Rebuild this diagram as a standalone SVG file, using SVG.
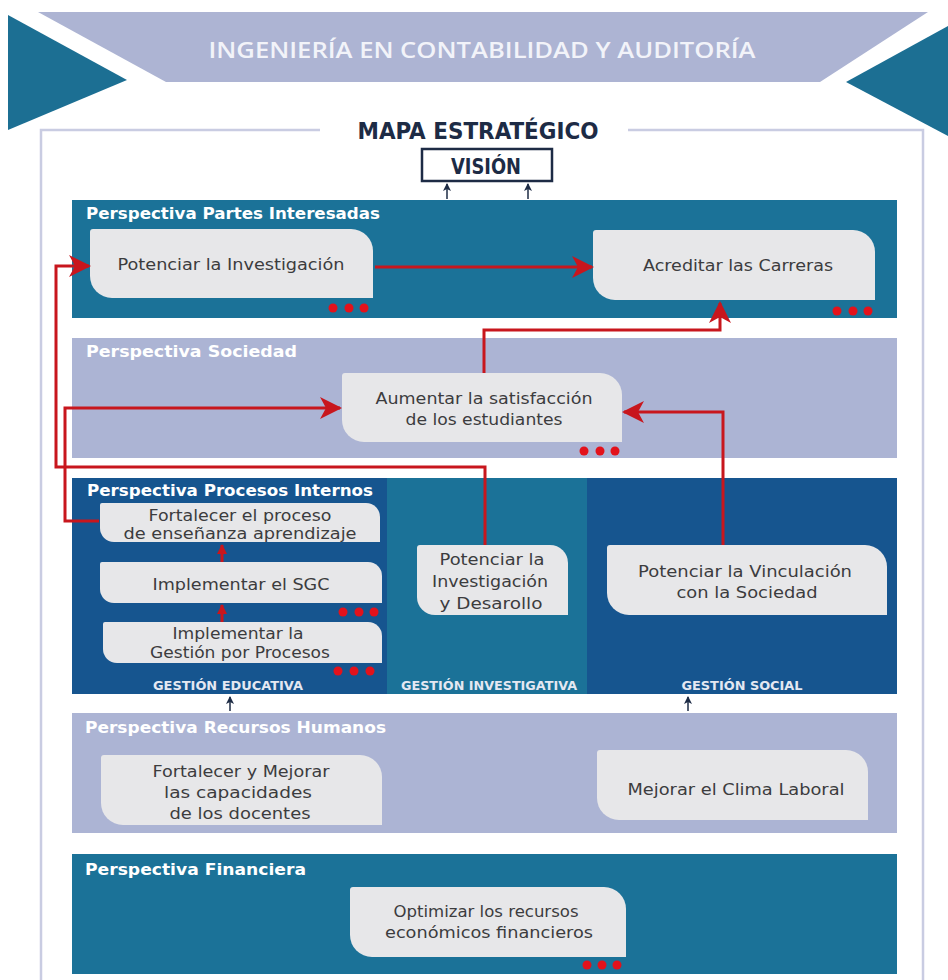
<svg xmlns="http://www.w3.org/2000/svg" width="948" height="980" viewBox="0 0 948 980">
<style>
.node{fill:#e7e7e9}
.nt{font-family:"DejaVu Sans",sans-serif;font-size:16px;fill:#3c3c3e;text-anchor:middle}
.ns{font-size:15px}
.lbl{font-family:"DejaVu Sans",sans-serif;font-weight:bold;font-size:15px;fill:#ffffff}
.gest{font-family:"DejaVu Sans",sans-serif;font-weight:bold;font-size:11.5px;fill:#e4e8f2;text-anchor:middle}
.dot{fill:#e3121b}
.red{fill:none;stroke:#c8161d;stroke-width:3}
.dark{fill:none;stroke:#1d2b45;stroke-width:1.5}
</style>
<defs>
<marker id="ah" markerUnits="userSpaceOnUse" markerWidth="24" markerHeight="24" viewBox="0 0 24 24" refX="20" refY="12" orient="auto">
<path d="M0,1 L22,12 L0,23 L6,12 Z" fill="#c8161d"/>
</marker>
<marker id="ahs" markerUnits="userSpaceOnUse" markerWidth="10" markerHeight="10" viewBox="0 0 10 10" refX="9" refY="5" orient="auto">
<path d="M0,0 L10,5 L0,10 Z" fill="#c8161d"/>
</marker>
<marker id="ahd" markerUnits="userSpaceOnUse" markerWidth="8" markerHeight="8" viewBox="0 0 8 8" refX="7" refY="4" orient="auto">
<path d="M0,0 L8,4 L0,8 L2,4 Z" fill="#1d2b45"/>
</marker>
</defs>
<rect width="948" height="980" fill="#ffffff"/>

<g id="header">
<polygon points="8,15 127,80 8,130" fill="#1c6f93"/>
<polygon points="846,82 948,26 948,136" fill="#1c6f93"/>
<polygon points="38,12 928,12 820,82 166,82" fill="#adb4d3"/>
<text x="482" y="58" font-family="'Open Sans','DejaVu Sans',sans-serif" font-weight="600" font-size="21" fill="#f2f3f9" text-anchor="middle" textLength="547" lengthAdjust="spacingAndGlyphs">INGENIERÍA EN CONTABILIDAD Y AUDITORÍA</text>
</g>

<g id="panel">
<path d="M320,130 H41 V980 M628,130 H923 V980" fill="none" stroke="#c9cce2" stroke-width="2.5"/>
<text x="478" y="139" font-family="'DejaVu Sans Condensed','DejaVu Sans',sans-serif" font-weight="bold" font-size="23" fill="#1d2b45" text-anchor="middle" textLength="241" lengthAdjust="spacingAndGlyphs">MAPA ESTRATÉGICO</text>
</g>

<g id="vision">
<rect x="422" y="149" width="130" height="32" fill="#ffffff" stroke="#1d2b45" stroke-width="2.5"/>
<text x="486" y="174" font-family="'DejaVu Sans Condensed','DejaVu Sans',sans-serif" font-weight="bold" font-size="22" fill="#1d2b45" text-anchor="middle" textLength="70" lengthAdjust="spacingAndGlyphs">VISIÓN</text>
</g>

<g id="bands">
<rect x="72" y="200" width="825" height="118" fill="#1b7298"/>
<rect x="72" y="338" width="825" height="120" fill="#acb4d4"/>
<rect x="72" y="478" width="315" height="216" fill="#16558f"/>
<rect x="387" y="478" width="200" height="216" fill="#1b7298"/>
<rect x="587" y="478" width="310" height="216" fill="#16558f"/>
<rect x="72" y="713" width="825" height="120" fill="#acb4d4"/>
<rect x="72" y="854" width="825" height="120" fill="#1b7298"/>
<text class="lbl" x="86" y="219" textLength="294" lengthAdjust="spacingAndGlyphs">Perspectiva Partes Interesadas</text>
<text class="lbl" x="86" y="357" textLength="211" lengthAdjust="spacingAndGlyphs">Perspectiva Sociedad</text>
<text class="lbl" x="87" y="496" textLength="286" lengthAdjust="spacingAndGlyphs">Perspectiva Procesos Internos</text>
<text class="lbl" x="85" y="733" textLength="301" lengthAdjust="spacingAndGlyphs">Perspectiva Recursos Humanos</text>
<text class="lbl" x="85" y="875" textLength="221" lengthAdjust="spacingAndGlyphs">Perspectiva Financiera</text>
<text class="gest" x="228" y="690" textLength="150" lengthAdjust="spacingAndGlyphs">GESTIÓN EDUCATIVA</text>
<text class="gest" x="489" y="690" textLength="176" lengthAdjust="spacingAndGlyphs">GESTIÓN INVESTIGATIVA</text>
<text class="gest" x="742" y="690" textLength="121" lengthAdjust="spacingAndGlyphs">GESTIÓN SOCIAL</text>
</g>

<g id="n-potenciar-investigacion">
<path class="node" d="M93,229 H351 A22,22 0 0 1 373,251 V298 H112 A22,22 0 0 1 90,276 V232 Q90,229 93,229 Z"/>
<text class="nt" x="231" y="270" textLength="227" lengthAdjust="spacingAndGlyphs">Potenciar la Investigación</text>
<circle class="dot" cx="333" cy="308" r="4.5"/><circle class="dot" cx="349" cy="308" r="4.5"/><circle class="dot" cx="364" cy="308" r="4.5"/>
</g>

<g id="n-acreditar">
<path class="node" d="M596,230 H853 A22,22 0 0 1 875,252 V300 H615 A22,22 0 0 1 593,278 V233 Q593,230 596,230 Z"/>
<text class="nt" x="738" y="271" textLength="190" lengthAdjust="spacingAndGlyphs">Acreditar las Carreras</text>
<circle class="dot" cx="837" cy="311" r="4.5"/><circle class="dot" cx="853" cy="311" r="4.5"/><circle class="dot" cx="868" cy="311" r="4.5"/>
</g>

<g id="n-aumentar">
<path class="node" d="M345,373 H600 A22,22 0 0 1 622,395 V442 H364 A22,22 0 0 1 342,420 V376 Q342,373 345,373 Z"/>
<text class="nt" x="484" y="404" textLength="217" lengthAdjust="spacingAndGlyphs">Aumentar la satisfacción</text>
<text class="nt" x="484" y="425" textLength="157" lengthAdjust="spacingAndGlyphs">de los estudiantes</text>
<circle class="dot" cx="584" cy="451" r="4.5"/><circle class="dot" cx="600" cy="451" r="4.5"/><circle class="dot" cx="615" cy="451" r="4.5"/>
</g>

<g id="n-fortalecer-proceso">
<path class="node" d="M102,503 H366 A14,14 0 0 1 380,517 V542 H114 A14,14 0 0 1 100,528 V505 Q100,503 102,503 Z"/>
<text class="nt ns" x="240" y="521" textLength="183" lengthAdjust="spacingAndGlyphs">Fortalecer el proceso</text>
<text class="nt ns" x="240" y="539" textLength="233" lengthAdjust="spacingAndGlyphs">de enseñanza aprendizaje</text>
</g>

<g id="n-sgc">
<path class="node" d="M102,562 H368 A14,14 0 0 1 382,576 V603 H114 A14,14 0 0 1 100,589 V564 Q100,562 102,562 Z"/>
<text class="nt ns" x="241" y="590" textLength="177" lengthAdjust="spacingAndGlyphs">Implementar el SGC</text>
<circle class="dot" cx="343" cy="612" r="4.5"/><circle class="dot" cx="359" cy="612" r="4.5"/><circle class="dot" cx="374" cy="612" r="4.5"/>
</g>

<g id="n-gestion-procesos">
<path class="node" d="M105,622 H368 A14,14 0 0 1 382,636 V663 H117 A14,14 0 0 1 103,649 V624 Q103,622 105,622 Z"/>
<text class="nt ns" x="238" y="639" textLength="131" lengthAdjust="spacingAndGlyphs">Implementar la</text>
<text class="nt ns" x="240" y="658" textLength="180" lengthAdjust="spacingAndGlyphs">Gestión por Procesos</text>
<circle class="dot" cx="338" cy="671" r="4.5"/><circle class="dot" cx="354" cy="671" r="4.5"/><circle class="dot" cx="370" cy="671" r="4.5"/>
</g>

<g id="n-investigacion-desarrollo">
<path class="node" d="M420,545 H550 A18,18 0 0 1 568,563 V615 H435 A18,18 0 0 1 417,597 V548 Q417,545 420,545 Z"/>
<text class="nt" x="492" y="565" textLength="105" lengthAdjust="spacingAndGlyphs">Potenciar la</text>
<text class="nt" x="490" y="587" textLength="116" lengthAdjust="spacingAndGlyphs">Investigación</text>
<text class="nt" x="491" y="609" textLength="103" lengthAdjust="spacingAndGlyphs">y Desarollo</text>
</g>

<g id="n-vinculacion">
<path class="node" d="M610,545 H865 A22,22 0 0 1 887,567 V615 H629 A22,22 0 0 1 607,593 V548 Q607,545 610,545 Z"/>
<text class="nt" x="745" y="577" textLength="214" lengthAdjust="spacingAndGlyphs">Potenciar la Vinculación</text>
<text class="nt" x="747" y="598" textLength="141" lengthAdjust="spacingAndGlyphs">con la Sociedad</text>
</g>

<g id="n-docentes">
<path class="node" d="M104,755 H360 A22,22 0 0 1 382,777 V825 H123 A22,22 0 0 1 101,803 V758 Q101,755 104,755 Z"/>
<text class="nt" x="241" y="777" textLength="177" lengthAdjust="spacingAndGlyphs">Fortalecer y Mejorar</text>
<text class="nt" x="238" y="798" textLength="148" lengthAdjust="spacingAndGlyphs">las capacidades</text>
<text class="nt" x="240" y="819" textLength="141" lengthAdjust="spacingAndGlyphs">de los docentes</text>
</g>

<g id="n-clima">
<path class="node" d="M600,750 H846 A22,22 0 0 1 868,772 V820 H619 A22,22 0 0 1 597,798 V753 Q597,750 600,750 Z"/>
<text class="nt" x="736" y="795" textLength="217" lengthAdjust="spacingAndGlyphs">Mejorar el Clima Laboral</text>
</g>

<g id="n-optimizar">
<path class="node" d="M353,887 H604 A22,22 0 0 1 626,909 V957 H372 A22,22 0 0 1 350,935 V890 Q350,887 353,887 Z"/>
<text class="nt" x="486" y="917" textLength="185" lengthAdjust="spacingAndGlyphs">Optimizar los recursos</text>
<text class="nt" x="489" y="938" textLength="208" lengthAdjust="spacingAndGlyphs">económicos financieros</text>
<circle class="dot" cx="587" cy="965" r="4.5"/><circle class="dot" cx="602" cy="965" r="4.5"/><circle class="dot" cx="617" cy="965" r="4.5"/>
</g>

<g id="connectors">
<path class="red" d="M375,267 H592" marker-end="url(#ah)"/>
<path class="red" d="M484,373 V330 H720 V303" marker-end="url(#ah)"/>
<path class="red" d="M485,545 V467 H56 V266 H89" marker-end="url(#ah)"/>
<path class="red" d="M99,521 H65 V408 H340" marker-end="url(#ah)"/>
<path class="red" d="M723,545 V412 H624" marker-end="url(#ah)"/>
<path class="red" d="M222,562 V545" stroke-width="3" marker-end="url(#ahs)"/>
<path class="red" d="M222,622 V605" stroke-width="3" marker-end="url(#ahs)"/>
<path class="dark" d="M447,199 V184" marker-end="url(#ahd)"/>
<path class="dark" d="M528,199 V184" marker-end="url(#ahd)"/>
<path class="dark" d="M230,711 V697" marker-end="url(#ahd)"/>
<path class="dark" d="M688,711 V697" marker-end="url(#ahd)"/>
</g>
</svg>
